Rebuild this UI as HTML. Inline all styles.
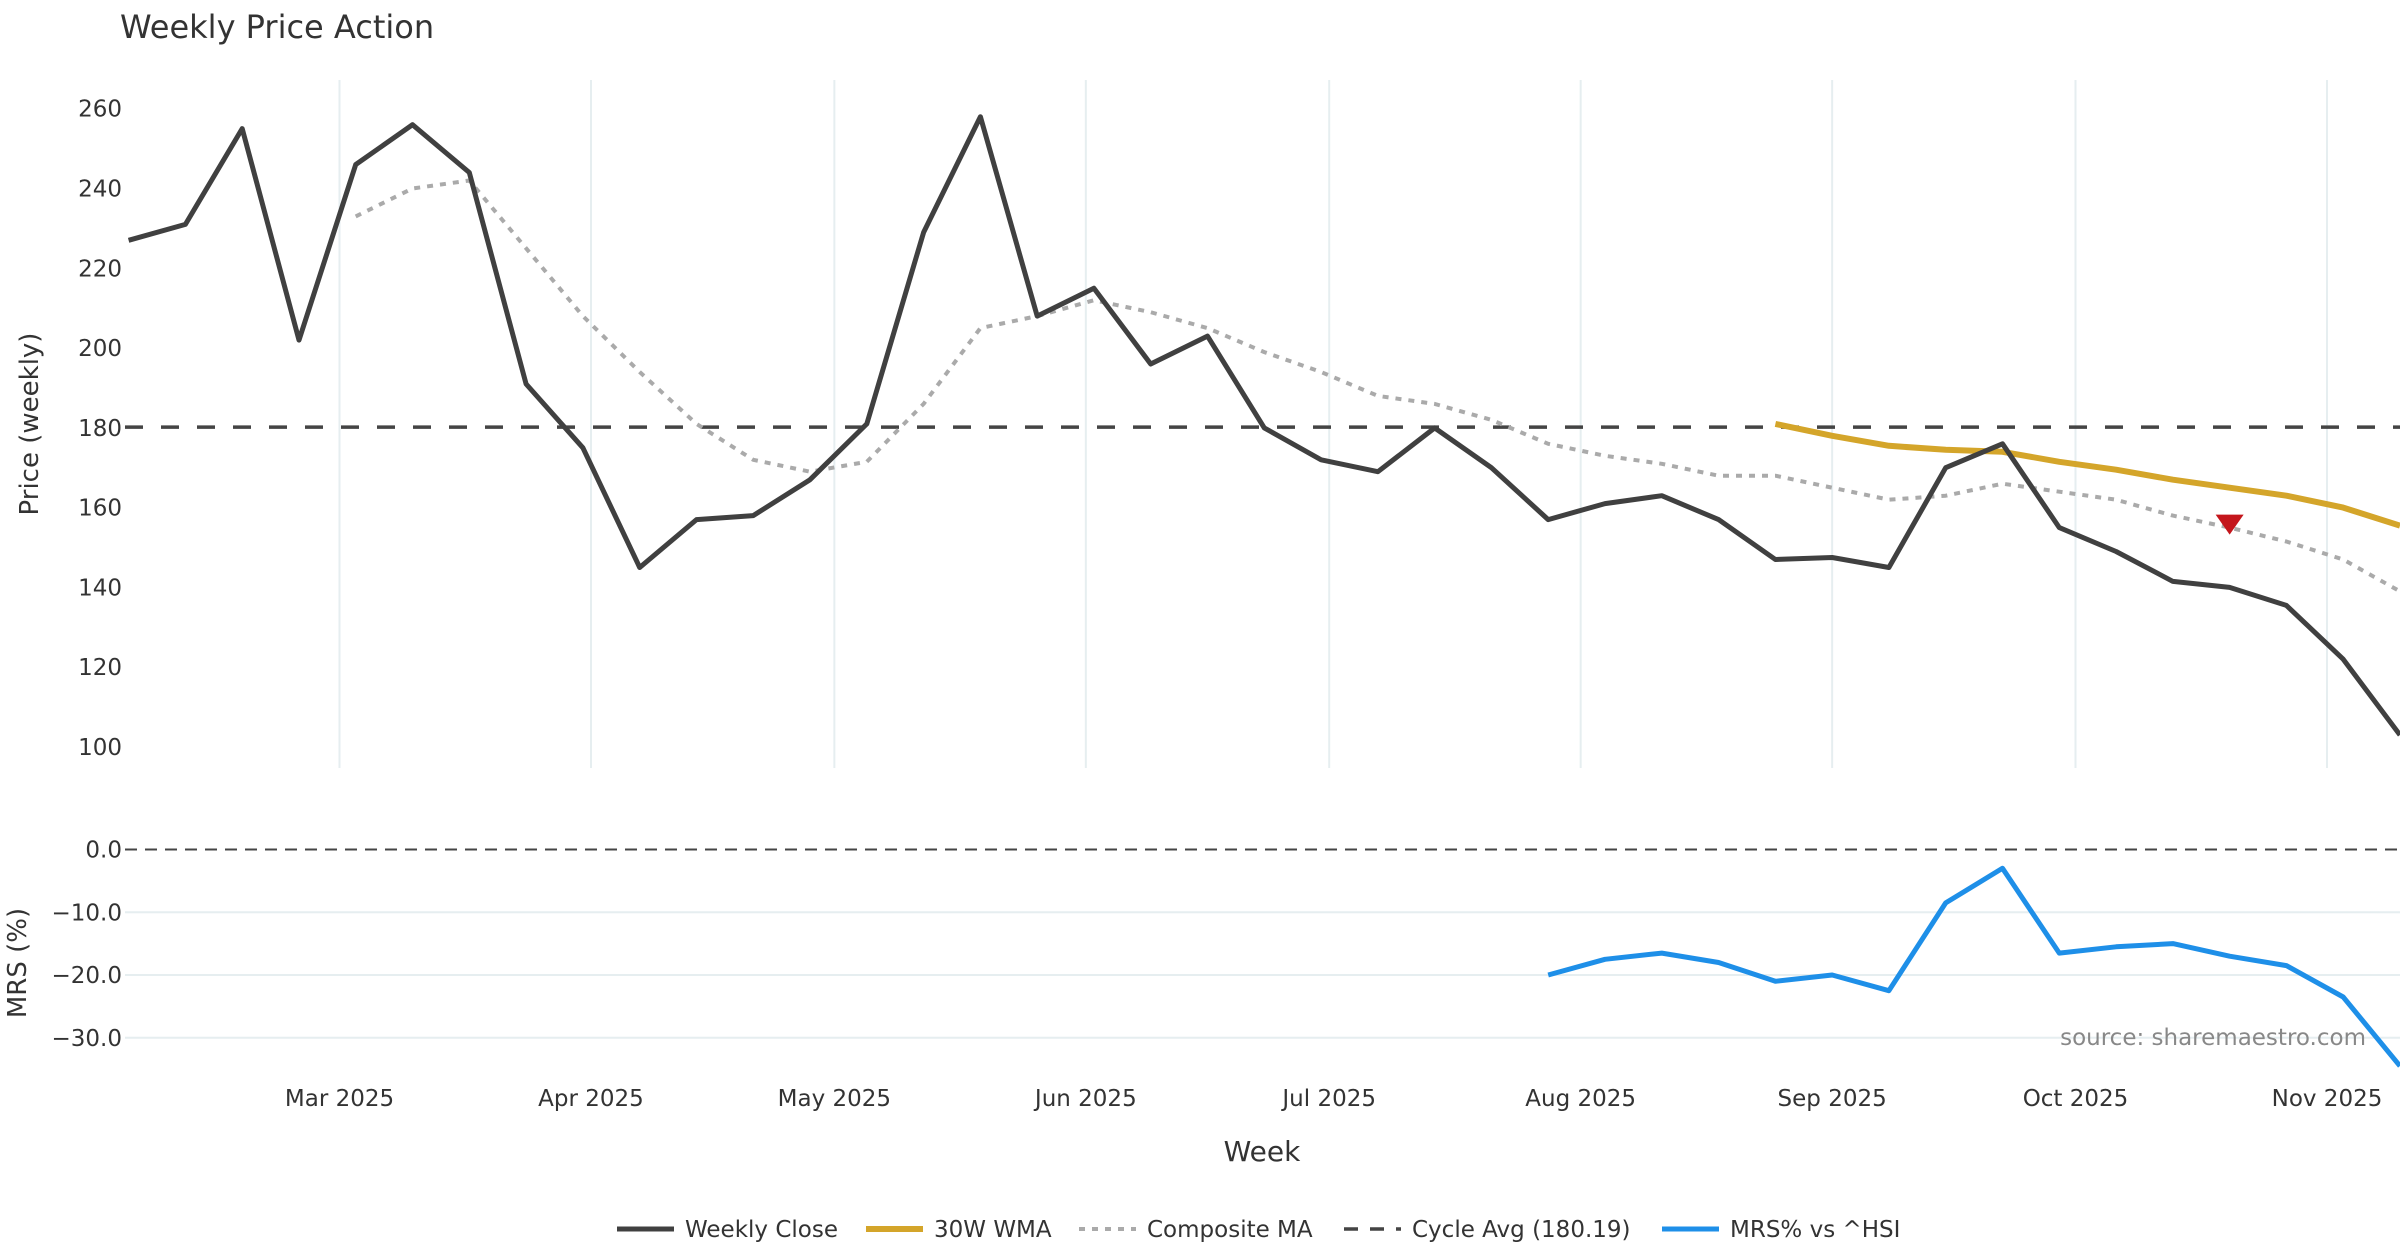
<!DOCTYPE html>
<html><head><meta charset="utf-8"><style>
html,body{margin:0;padding:0;background:#fff;}
svg{display:block;font-family:"DejaVu Sans","Liberation Sans",sans-serif;}
</style></head><body>
<svg id="chart" width="2400" height="1260" viewBox="0 0 2400 1260" xmlns="http://www.w3.org/2000/svg">
<rect width="2400" height="1260" fill="#fff"/>
<text x="120" y="38" font-size="32" fill="#333">Weekly Price Action</text>
<g id="grid"></g><g id="series"></g><g id="axes"></g>
<text x="1262" y="1161" font-size="28" fill="#333" text-anchor="middle">Week</text>
<text transform="translate(38,424) rotate(-90)" font-size="26" fill="#333" text-anchor="middle">Price (weekly)</text>
<text transform="translate(26,963) rotate(-90)" font-size="26" fill="#333" text-anchor="middle">MRS (%)</text>
<text x="2366" y="1045" font-size="23" fill="#888" text-anchor="end">source: sharemaestro.com</text>
<g id="legend"></g>
</svg>
<script>
const closeVals=[227,231,255,202,246,256,244,191,175,145,157,158,167,181,229,258,208,215,196,203,180,172,169,180,170,157,161,163,157,147,147.5,145,170,176,155,149,141.5,140,135.5,122,103];
const compositeStart=4;
const compositeVals=[233,240,242,225,208,194,181,172,169,171.5,186,205,208,212,209,205,199,194,188,186,182,176,173,171,168,168,165,162,163,166,164,162,158,155,151.5,147,139];
const wmaStart=29;
const wmaVals=[181,178,175.5,174.5,174,171.5,169.5,167,165,163,160,155.5];
const mrsStart=25;
const mrsVals=[-20,-17.5,-16.5,-18,-21,-20,-22.5,-8.5,-3,-16.5,-15.5,-15,-17,-18.5,-23.5,-34.5];
const cycleAvg=180.19;
const signalIndex=37, signalValue=156;
const priceTicks=[100,120,140,160,180,200,220,240,260];
const mrsTicks=[0,-10,-20,-30];
const monthLabels=["Mar 2025","Apr 2025","May 2025","Jun 2025","Jul 2025","Aug 2025","Sep 2025","Oct 2025","Nov 2025"];
const monthDayOffsets=[26,57,87,118,148,179,210,240,271];

const NS="http://www.w3.org/2000/svg";
const X0=128.6, X1=2400, N=closeVals.length;
const step=(X1-X0)/(N-1);
const xi=i=>X0+i*step;
const xd=d=>X0+d*step/7;
const yP=v=>747+(v-100)*(108.7-747)/160;
const yM=v=>849.5+v*(1037.8-849.5)/-30;
function el(tag,attrs,parent){const e=document.createElementNS(NS,tag);for(const k in attrs)e.setAttribute(k,attrs[k]);parent.appendChild(e);return e;}
const grid=document.getElementById('grid'),series=document.getElementById('series'),axes=document.getElementById('axes'),legend=document.getElementById('legend');

monthDayOffsets.forEach((d,k)=>{
  const g=el('line',{x1:xd(d),x2:xd(d),y1:80,y2:768,stroke:'#e6eef0','stroke-width':2},grid);
  
  
  const t=el('text',{x:xd(d),y:1106,'font-size':23,fill:'#333','text-anchor':'middle'},axes);
  t.textContent=monthLabels[k];
  
  
});
priceTicks.forEach(v=>{
  const t=el('text',{x:122,y:yP(v)+8,'font-size':23,fill:'#333','text-anchor':'end'},axes);
  t.textContent=v;
  
  
});
mrsTicks.forEach(v=>{
  if(v!==0){const g=el('line',{x1:125,x2:2400,y1:yM(v),y2:yM(v),stroke:'#e6eef0','stroke-width':2},grid);
  
  }
  const t=el('text',{x:122,y:yM(v)+8,'font-size':23,fill:'#333','text-anchor':'end'},axes);
  t.textContent=v.toFixed(1).replace('-','\u2212');
  
  
});
function poly(vals,start,yf,attrs,name){
  const pts=vals.map((v,k)=>xi(start+k).toFixed(1)+','+yf(v).toFixed(1)).join(' ');
  const p=el('polyline',Object.assign({points:pts,fill:'none','stroke-linejoin':'round'},attrs),series);
  
  
}
const cyc=el('line',{x1:125,x2:2400,y1:yP(cycleAvg),y2:yP(cycleAvg),stroke:'#444','stroke-width':3.5,'stroke-dasharray':'18,18'},series);


const zero=el('line',{x1:125,x2:2400,y1:yM(0),y2:yM(0),stroke:'#444','stroke-width':2,'stroke-dasharray':'12,8'},series);


poly(compositeVals,compositeStart,yP,{stroke:'#aaa','stroke-width':4,'stroke-dasharray':'6,7'},'composite-ma-line');
poly(wmaVals,wmaStart,yP,{stroke:'#D4A52A','stroke-width':6},'wma-30w-line');
poly(closeVals,0,yP,{stroke:'#404040','stroke-width':5},'weekly-close-line');
poly(mrsVals,mrsStart,yM,{stroke:'#1E8FE8','stroke-width':5},'mrs-line');
const sx=xi(signalIndex),sy=yP(signalValue);
const tri=el('polygon',{points:`${sx-14},${sy-9} ${sx+14},${sy-9} ${sx},${sy+11}`,fill:'#C4161C'},series);



const items=[['Weekly Close','#404040',5,''],['30W WMA','#D4A52A',6,''],['Composite MA','#aaa',4,'6,7'],['Cycle Avg (180.19)','#444',3.5,'14,12'],['MRS% vs ^HSI','#1E8FE8',5,'']];
const lx=[617,866,1079,1344,1662];
items.forEach((it,k)=>{
  const g=el('g',{},legend);
  
  
  el('line',{x1:lx[k],x2:lx[k]+57,y1:1229,y2:1229,stroke:it[1],'stroke-width':it[2],'stroke-dasharray':it[3]},g);
  const t=el('text',{x:lx[k]+68,y:1237,'font-size':23,fill:'#333'},g);
  t.textContent=it[0];
});
</script>
</body></html>
